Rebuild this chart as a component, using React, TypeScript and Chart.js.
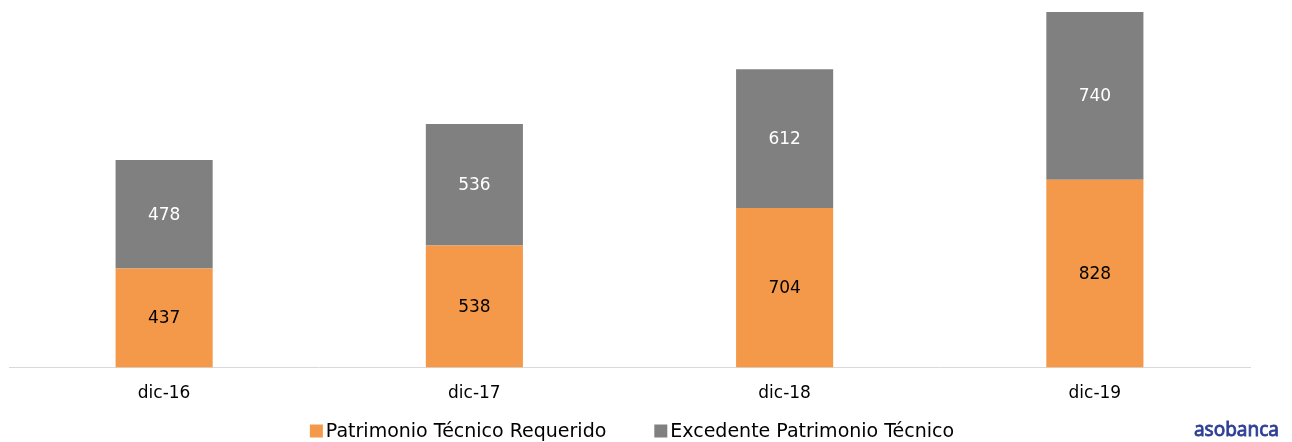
import React, { useEffect, useRef } from "react";
import { Chart, registerables } from "chart.js";

Chart.register(...registerables);

const categories = ["dic-16", "dic-17", "dic-18", "dic-19"];
const requerido = [437, 538, 704, 828];
const excedente = [478, 536, 612, 740];
const seriesNames = ["Patrimonio Técnico Requerido", "Excedente Patrimonio Técnico"];
const seriesColors = ["#f4994a", "#808080"];

const FONT = "'DejaVu Sans', sans-serif";

const labelPlugin = {
  id: "barLabels",
  afterDatasetsDraw(chart: any) {
    const ctx = chart.ctx;
    ctx.save();
    ctx.font = `17px ${FONT}`;
    ctx.textAlign = "center";
    ctx.textBaseline = "middle";
    chart.data.datasets.forEach((ds: any, di: number) => {
      const meta = chart.getDatasetMeta(di);
      meta.data.forEach((bar: any, i: number) => {
        const y = (bar.y + bar.base) / 2;
        ctx.fillStyle = di === 0 ? "#000000" : "#ffffff";
        ctx.fillText(String(ds.data[i]), bar.x, y + 1);
      });
    });
    ctx.restore();
  },
};

const legendPlugin = {
  id: "customLegend",
  afterDraw(chart: any) {
    const ctx = chart.ctx;
    ctx.save();
    ctx.font = `19px ${FONT}`;
    ctx.textBaseline = "middle";
    ctx.textAlign = "left";
    const box = 13;
    const gap = 3;
    const itemGap = 48;
    const widths = seriesNames.map((n) => ctx.measureText(n).width);
    const total = widths.reduce((a, w) => a + box + gap + w, 0) + itemGap;
    let x = 632 - total / 2;
    const cy = 431;
    seriesNames.forEach((n, i) => {
      ctx.fillStyle = seriesColors[i];
      ctx.fillRect(x, cy - box / 2, box, box);
      x += box + gap;
      ctx.fillStyle = "#000000";
      ctx.fillText(n, x, cy + 1);
      x += widths[i] + itemGap;
    });
    // logo
    ctx.font = `19px 'Noto Sans', sans-serif`;
    ctx.fillStyle = "#2e3f95";
    ctx.strokeStyle = "#2e3f95";
    ctx.lineWidth = 0.8;
    ctx.textAlign = "right";
    ctx.fillText("asobanca", 1279, 431);
    ctx.strokeText("asobanca", 1279, 431);
    ctx.restore();
  },
};

export default function App() {
  const ref = useRef<HTMLCanvasElement | null>(null);
  useEffect(() => {
    if (!ref.current) return;
    const chart = new Chart(ref.current, {
      type: "bar",
      data: {
        labels: categories,
        datasets: [
          {
            label: seriesNames[0],
            data: requerido,
            backgroundColor: seriesColors[0],
            borderWidth: 0,
            categoryPercentage: 1,
            barPercentage: 0.313,
          },
          {
            label: seriesNames[1],
            data: excedente,
            backgroundColor: seriesColors[1],
            borderWidth: 0,
            categoryPercentage: 1,
            barPercentage: 0.313,
          },
        ],
      },
      options: {
        animation: false,
        responsive: false,
        maintainAspectRatio: false,
        layout: { padding: { left: 9, right: 42, top: 12, bottom: 30 } },
        scales: {
          x: {
            stacked: true,
            grid: { display: false },
            border: { display: true, color: "#d9d9d9", width: 1 },
            ticks: { color: "#000000", font: { family: FONT, size: 17 }, padding: 8 },
          },
          y: {
            stacked: true,
            display: false,
            min: 0,
            max: 1568,
          },
        },
        plugins: {
          legend: { display: false },
          tooltip: { enabled: false },
        },
      } as any,
      plugins: [labelPlugin, legendPlugin],
    });
    return () => chart.destroy();
  }, []);
  return (
    <div style={{ position: "fixed", left: 0, top: 0, width: 1292, height: 442, background: "#fff" }}>
      <canvas ref={ref} width={1292} height={442} style={{ width: 1292, height: 442 }} />
    </div>
  );
}
